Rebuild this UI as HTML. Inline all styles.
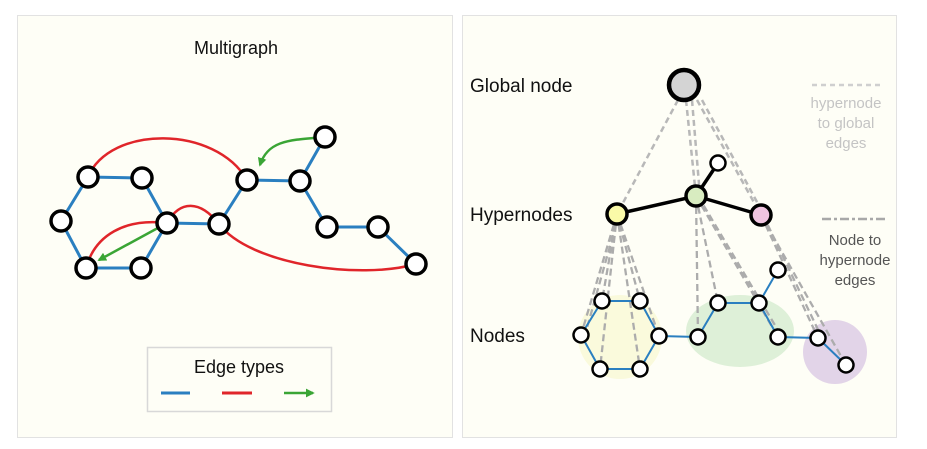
<!DOCTYPE html>
<html><head><style>
html,body{margin:0;padding:0;background:#fff;}
svg{display:block;font-family:"Liberation Sans",sans-serif;}
</style></head><body>
<svg width="927" height="449" viewBox="0 0 927 449" xmlns="http://www.w3.org/2000/svg">
<defs>
<marker id="ga" viewBox="0 0 10 10" refX="8" refY="5" markerWidth="3.5" markerHeight="3.5" orient="auto"><path d="M0,0 L10,5 L0,10 z" fill="#3aa535"/></marker>
</defs>
<rect x="17.5" y="15.5" width="435" height="422" fill="#fefef6" stroke="#e2e2e2"/>
<rect x="462.5" y="15.5" width="434" height="422" fill="#fefef6" stroke="#e2e2e2"/>
<text x="236" y="54" font-size="18" text-anchor="middle" fill="#111">Multigraph</text>
<g fill="none" stroke="#e0252a" stroke-width="2.5">
<path d="M88,177 C110,125 215,125 247,180"/>
<path d="M167,223 C180,200 200,200 219,224"/>
<path d="M167,223 C125,218 95,235 86,268"/>
<path d="M219,224 C250,265 360,280 416,264"/>
</g>
<g stroke="#2a7fc0" stroke-width="3" fill="none">
<path d="M88,177 L142,178 L167,223 L141,268 L86,268 L61,221 Z"/>
<path d="M167,223 L219,224 L247,180 L300,181 L325,137 M300,181 L327,227 L378,227 L416,264"/>
</g>
<g stroke="#3aa535" stroke-width="2.5" fill="none">
<path d="M325,137 C290,140 268,140 260,165" marker-end="url(#ga)"/>
<path d="M167,223 L99,260" marker-end="url(#ga)"/>
</g>
<g fill="#fff" stroke="#000" stroke-width="3.5">
<circle cx="88" cy="177" r="10"/><circle cx="142" cy="178" r="10"/><circle cx="61" cy="221" r="10"/>
<circle cx="167" cy="223" r="10"/><circle cx="86" cy="268" r="10"/><circle cx="141" cy="268" r="10"/>
<circle cx="219" cy="224" r="10"/><circle cx="247" cy="180" r="10"/><circle cx="300" cy="181" r="10"/>
<circle cx="325" cy="137" r="10"/><circle cx="327" cy="227" r="10"/><circle cx="378" cy="227" r="10"/>
<circle cx="416" cy="264" r="10"/>
</g>
<rect x="147.5" y="347.5" width="184" height="64" fill="#fefef6" stroke="#d8d8d8" stroke-width="1.5"/>
<text x="239" y="373" font-size="18" text-anchor="middle" fill="#111">Edge types</text>
<line x1="161" y1="393" x2="190" y2="393" stroke="#2a7fc0" stroke-width="3"/>
<line x1="222" y1="393" x2="252" y2="393" stroke="#e0252a" stroke-width="3"/>
<line x1="284" y1="393" x2="313" y2="393" stroke="#3aa535" stroke-width="2.5" marker-end="url(#ga)"/>

<circle cx="620" cy="337" r="42" fill="#fafadc"/>
<ellipse cx="740" cy="331" rx="54" ry="36" fill="#def0d8"/>
<circle cx="835" cy="352" r="32" fill="#e2d4e8"/>
<g stroke="#b8b8b8" stroke-width="2.5" stroke-dasharray="6,4" fill="none">
<path d="M678,100 L617,214 M686,100 L696,196 M692,100 L700,196 M697,100 L761,215 M702,100 L764,215"/>
</g>
<g stroke="#acacac" stroke-width="2.3" stroke-dasharray="7,4" fill="none">
<path d="M617,214 L581,335 M617,214 L602,301 M617,214 L640,301 M617,214 L600,369 M617,214 L640,369 M617,214 L659,336 M619,214 L585,335"/>
<path d="M696,196 L698,337 M696,196 L718,303 M696,196 L778,337 M698,196 L782,337 M696,196 L759,303"/>
<path d="M761,215 L818,338 M761,215 L846,365 M763,215 L822,338"/>
</g>
<g stroke="#2a7fc0" stroke-width="2" fill="none">
<path d="M602,301 L640,301 L659,336 L640,369 L600,369 L581,335 Z"/>
<path d="M659,336 L698,337 L718,303 L759,303 L778,270 M759,303 L778,337 L818,338 L846,365"/>
</g>
<g stroke="#000" stroke-width="3.5" fill="none"><path d="M617,214 L696,196 L761,215 M696,196 L718,163"/></g>
<circle cx="684" cy="85" r="15" fill="#d4d4d4" stroke="#000" stroke-width="4.5"/>
<g stroke="#000" stroke-width="3.5">
<circle cx="617" cy="214" r="10" fill="#fafaa8"/>
<circle cx="696" cy="196" r="10" fill="#d8ecc0"/>
<circle cx="761" cy="215" r="10" fill="#f0c4e0"/>
</g>
<g fill="#fff" stroke="#000" stroke-width="2.5">
<circle cx="718" cy="163" r="7.5"/>
<circle cx="602" cy="301" r="7.5"/><circle cx="640" cy="301" r="7.5"/><circle cx="581" cy="335" r="7.5"/>
<circle cx="659" cy="336" r="7.5"/><circle cx="600" cy="369" r="7.5"/><circle cx="640" cy="369" r="7.5"/>
<circle cx="698" cy="337" r="7.5"/><circle cx="718" cy="303" r="7.5"/><circle cx="759" cy="303" r="7.5"/>
<circle cx="778" cy="270" r="7.5"/><circle cx="778" cy="337" r="7.5"/><circle cx="818" cy="338" r="7.5"/>
<circle cx="846" cy="365" r="7.5"/>
</g>
<g font-size="19" fill="#111">
<text x="470" y="92">Global node</text>
<text x="470" y="221">Hypernodes</text>
<text x="470" y="342">Nodes</text>
</g>
<line x1="812" y1="85" x2="880" y2="85" stroke="#cfcfcf" stroke-width="2.5" stroke-dasharray="5,4"/>
<g font-size="15" fill="#c4c4c4" text-anchor="middle">
<text x="846" y="108">hypernode</text><text x="846" y="128">to global</text><text x="846" y="148">edges</text>
</g>
<line x1="822" y1="219" x2="886" y2="219" stroke="#a8a8a8" stroke-width="2.5" stroke-dasharray="9,3,3,3"/>
<g font-size="15" fill="#555" text-anchor="middle">
<text x="855" y="245">Node to</text><text x="855" y="265">hypernode</text><text x="855" y="285">edges</text>
</g>
</svg>
</body></html>
